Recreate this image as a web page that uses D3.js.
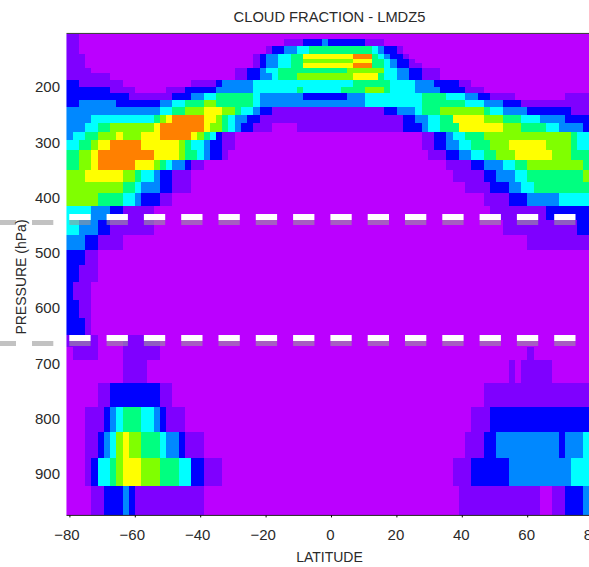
<!DOCTYPE html>
<html>
<head>
<meta charset="utf-8">
<script src="https://cdn.jsdelivr.net/npm/d3@7"></script>
<style>
body { margin: 0; background: #fff; }
svg { display: block; }
text { font-family: "Liberation Sans", Arial, sans-serif; fill: #2a2a2a; }
</style>
</head>
<body>
<svg class="graph"></svg>
<script>
// cloud fraction classes, lowest to highest
var levelColors = ["#bb00ff", "#7f00ff", "#0000ff", "#0088ff", "#00ffff", "#00ff80", "#80ff00", "#ffff00", "#ff8000"];

var latTicks = [-80, -60, -40, -20, 0, 20, 40, 60, 80];
var pressureTicks = [200, 300, 400, 500, 600, 700, 800, 900];
var dashedLevels = [435, 654];

// model grid, about 1.9 degrees of latitude per column
var firstLat = -80.9;
var latStep = 1.905;

// layer edges in hPa, top to bottom
var pressureEdges = [104, 114, 126, 140, 150, 157, 166, 175, 187, 200, 211, 224, 237, 251, 266, 281, 296, 314, 332, 350,
  371, 392, 415, 441, 468, 495, 522, 553, 585, 618, 649, 670, 694, 735, 779, 824, 871, 922, 974];

// one line per layer: class, column where that class ends, class, column...
var cloudRows = [
  [1,2,0,85],
  [1,2,0,35,1,38,2,41,3,42,2,48,1,51,0,85],
  [1,2,0,32,1,33,2,35,3,37,4,39,5,49,4,50,3,51,2,53,1,54,0,85],
  [1,3,0,30,1,31,2,32,3,34,4,36,5,38,7,46,8,49,5,50,4,51,3,52,2,54,1,55,0,85],
  [1,3,0,30,1,31,2,32,3,34,4,36,5,38,6,46,7,49,5,51,4,52,3,53,2,55,1,56,0,85],
  [1,3,0,30,1,31,2,32,3,34,4,36,5,38,7,46,8,49,5,51,4,52,3,53,2,55,1,57,0,85],
  [1,4,0,27,1,29,2,31,3,32,4,34,5,45,6,51,4,53,3,55,2,57,1,60,0,85],
  [1,7,0,27,1,29,2,31,3,33,4,34,5,37,6,46,7,50,5,51,4,53,3,55,2,57,1,60,0,85],
  [2,2,1,9,0,20,1,24,2,25,3,30,4,46,5,52,4,56,3,59,2,63,1,65,0,85],
  [2,7,1,11,0,16,1,19,2,24,3,30,4,37,5,38,4,44,5,48,6,51,5,52,4,56,3,60,2,64,1,67,0,85],
  [2,10,1,17,2,20,3,22,4,24,5,30,4,31,3,38,2,45,3,48,4,57,5,61,4,64,3,66,2,68,1,72,0,80,1,85],
  [2,2,3,8,2,15,3,17,4,19,5,22,6,24,5,30,4,31,3,48,4,57,5,64,4,67,3,70,2,73,1,85],
  [3,15,4,17,5,19,6,22,7,25,6,27,5,28,4,30,3,31,2,33,1,51,2,53,3,56,4,57,5,60,6,67,5,68,4,70,3,74,2,81,1,85],
  [3,4,4,14,5,15,6,16,7,17,8,22,7,24,6,25,5,26,4,27,3,29,2,31,1,54,2,56,3,58,4,60,5,62,7,67,6,70,5,73,4,76,3,80,2,85],
  [3,3,4,5,5,7,6,14,7,15,8,22,7,23,6,25,5,26,4,27,3,28,2,30,1,33,0,37,1,54,2,57,3,58,4,60,5,63,7,70,6,73,5,77,4,79,3,83,2,85],
  [3,1,4,3,5,5,6,8,7,9,6,12,7,15,8,20,7,21,6,22,5,23,4,24,2,25,1,27,0,57,1,59,2,61,3,62,4,64,5,67,6,81,5,82,4,84,3,85],
  [4,2,5,4,6,5,7,7,8,12,7,18,6,19,5,20,4,22,3,23,2,25,1,27,0,57,1,59,2,61,3,63,4,65,5,68,6,71,7,77,6,81,5,82,4,85],
  [5,2,6,4,7,5,8,14,7,18,6,19,5,21,4,22,3,23,2,25,1,26,0,58,1,61,2,63,3,65,4,67,5,69,6,72,7,78,6,81,5,85],
  [5,2,6,4,7,5,8,11,7,14,6,15,5,16,4,17,3,19,2,20,1,22,0,61,1,65,2,67,3,70,4,72,5,74,6,83,5,85],
  [6,3,7,9,6,11,5,12,4,14,3,15,2,17,1,20,0,62,1,67,2,69,3,72,4,74,5,83,6,85],
  [6,9,5,11,4,12,3,15,2,17,1,20,0,64,1,68,2,71,3,73,4,75,5,85],
  [6,5,5,9,4,11,3,12,2,15,1,17,0,67,1,71,2,74,3,79,4,85],
  [4,4,3,7,2,9,1,14,0,68,1,77,2,85],
  [4,2,3,5,2,7,1,14,0,70,1,82,2,85],
  [3,3,2,5,1,9,0,74,1,85],
  [2,3,1,5,0,85],
  [2,2,1,5,0,85],
  [2,1,1,4,0,85],
  [2,2,1,4,0,85],
  [2,3,1,4,0,85],
  [1,5,0,9,1,15,0,85],
  [0,1,1,5,0,9,1,15,0,74,1,75,0,85],
  [0,9,1,13,0,71,1,72,0,73,1,78,0,85],
  [0,5,1,7,2,15,1,17,0,67,1,85],
  [0,3,1,6,2,7,3,8,4,9,5,12,4,14,3,15,2,16,1,19,0,65,1,68,2,85],
  [0,3,1,5,2,6,3,7,4,8,6,9,7,10,6,12,5,15,4,16,3,18,2,19,1,22,0,64,1,67,2,69,3,79,2,80,3,83,4,85],
  [0,3,1,4,2,5,4,7,5,8,6,9,7,12,6,15,5,18,4,20,2,22,1,25,0,62,1,65,2,71,3,81,4,85],
  [0,4,1,6,2,9,3,10,2,11,1,22,0,63,1,76,0,78,1,80,2,83,3,85]
];

var width = 589;
var height = 567;

var x = d3.scaleLinear().domain([-80, 80]).range([69.4, 592.6]);
var y = d3.scaleLinear().domain([200, 900]).range([87, 474]);
var color = d3.scaleOrdinal().domain(d3.range(levelColors.length)).range(levelColors);

var svg = d3.select(".graph")
  .attr("width", width)
  .attr("height", height);

var defs = svg.append("defs");

// the source picture is a soft jpeg, so take the hard edges off the cells
defs.append("filter")
  .attr("id", "soft")
  .append("feGaussianBlur")
  .attr("stdDeviation", 0.6);

var plotTop = y(pressureEdges[0]);
var plotBottom = y(pressureEdges[pressureEdges.length - 1]);

defs.append("clipPath")
  .attr("id", "plotClip")
  .append("rect")
  .attr("x", x(firstLat))
  .attr("y", plotTop)
  .attr("width", width - x(firstLat))
  .attr("height", plotBottom - plotTop);

// turn the rows into runs of cells
var colLat = function(c) { return firstLat + c * latStep; };
var cells = [];
cloudRows.forEach(function(row, r) {
  var start = 0;
  for (var i = 0; i < row.length; i += 2) {
    cells.push({ level: row[i], from: start, to: row[i + 1], top: pressureEdges[r], bottom: pressureEdges[r + 1] });
    start = row[i + 1];
  }
});

svg.append("g")
  .attr("clip-path", "url(#plotClip)")
  .append("g")
  .attr("filter", "url(#soft)")
  .selectAll("rect")
  .data(cells)
  .enter()
  .append("rect")
  .attr("x", function(d) { return x(colLat(d.from)); })
  .attr("y", function(d) { return y(d.top); })
  .attr("width", function(d) { return x(colLat(d.to)) - x(colLat(d.from)); })
  .attr("height", function(d) { return y(d.bottom) - y(d.top); })
  .attr("fill", function(d) { return color(d.level); })
  .attr("shape-rendering", "crispEdges");

// frame lines at top and bottom of the plot
svg.append("line")
  .attr("x1", x(firstLat)).attr("x2", width)
  .attr("y1", plotTop - 0.5).attr("y2", plotTop - 0.5)
  .attr("stroke", "#333");

var xAxis = d3.axisBottom(x).tickValues(latTicks).tickSize(2).tickFormat(d3.format("d"));
var xGroup = svg.append("g")
  .attr("transform", "translate(0," + (plotBottom + 0.5) + ")")
  .call(xAxis);
xGroup.select(".domain").attr("d", "M" + x(firstLat) + ",0H" + width).attr("stroke", "#222");
xGroup.selectAll("text")
  .attr("y", 25)
  .attr("dy", 0)
  .attr("dx", function(d) { return d < 0 ? -3 : -1; })
  .attr("font-size", "15px")
  .attr("font-family", "Liberation Sans");

var yAxis = d3.axisLeft(y).tickValues(pressureTicks).tickSize(0);
var yGroup = svg.append("g")
  .attr("transform", "translate(60,0)")
  .call(yAxis);
yGroup.select(".domain").remove();
yGroup.selectAll("text")
  .attr("x", 0)
  .attr("font-size", "15px")
  .attr("font-family", "Liberation Sans");

// dashed pressure levels: white dash with a gray shadow under it
dashedLevels.forEach(function(p) {
  svg.append("line")
    .attr("x1", -5.3).attr("x2", width)
    .attr("y1", y(p) + 5.5).attr("y2", y(p) + 5.5)
    .attr("stroke", "#999")
    .attr("stroke-opacity", 0.6)
    .attr("stroke-width", 5)
    .attr("stroke-dasharray", "21.3 16");
  svg.append("line")
    .attr("x1", -5.3).attr("x2", width)
    .attr("y1", y(p)).attr("y2", y(p))
    .attr("stroke", "#fff")
    .attr("stroke-width", 6)
    .attr("stroke-dasharray", "21.3 16");
});

svg.append("text")
  .text("CLOUD FRACTION - LMDZ5")
  .attr("x", 329.5)
  .attr("y", 22)
  .attr("text-anchor", "middle")
  .attr("font-size", "14.7px");

svg.append("text")
  .text("LATITUDE")
  .attr("x", 329.5)
  .attr("y", 562)
  .attr("text-anchor", "middle")
  .attr("font-size", "14px");

svg.append("text")
  .text("PRESSURE (hPa)")
  .attr("transform", "translate(26,277) rotate(-90)")
  .attr("text-anchor", "middle")
  .attr("font-size", "14px");
</script>
</body>
</html>
